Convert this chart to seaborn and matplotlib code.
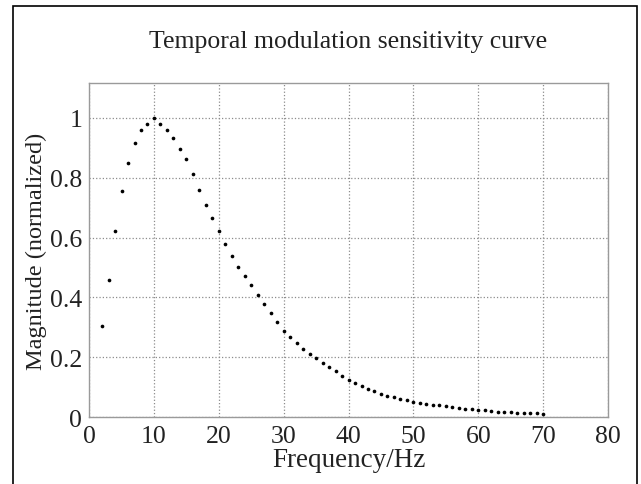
import numpy as np
import matplotlib
matplotlib.use('Agg')
import matplotlib.pyplot as plt
import seaborn as sns
import pandas as pd

# frequencias (Hz) e magnitude normalizada
freq = list(range(2, 71))
mag = [0.304, 0.459, 0.621, 0.755, 0.849, 0.917, 0.961, 0.980, 1.000,
       0.980, 0.961, 0.934, 0.897, 0.863, 0.811, 0.758, 0.709, 0.666,
       0.621, 0.580, 0.539, 0.502, 0.472, 0.440, 0.409, 0.378, 0.347,
       0.318, 0.289, 0.267, 0.247, 0.229, 0.212, 0.196, 0.182, 0.167,
       0.153, 0.137, 0.123, 0.113, 0.103, 0.094, 0.086, 0.078, 0.071,
       0.066, 0.060, 0.056, 0.051, 0.048, 0.045, 0.042, 0.039, 0.037,
       0.033, 0.031, 0.028, 0.027, 0.025, 0.022, 0.020, 0.018, 0.017,
       0.016, 0.015, 0.014, 0.013, 0.012, 0.011]
x_ticks = [0, 10, 20, 30, 40, 50, 60, 70, 80]
y_ticks = [0, 0.2, 0.4, 0.6, 0.8, 1]
y_tick_labels = ['0', '0.2', '0.4', '0.6', '0.8', '1']

df = pd.DataFrame({'freq': freq, 'mag': mag})

sns.set_style('white')
plt.rcParams['font.family'] = ['Liberation Serif', 'DejaVu Serif']

fig = plt.figure(figsize=(6.41, 4.85), dpi=100)
ax = fig.add_axes([0.139, 0.138, 0.8095, 0.689])

sns.scatterplot(data=df, x='freq', y='mag', s=7, color='black',
                linewidth=0, ax=ax, zorder=3)

ax.set_xlim(0, 80)
ax.set_ylim(0, 1.117)
ax.set_xticks(x_ticks)
ax.set_yticks(y_ticks)
ax.set_yticklabels(y_tick_labels)
ax.grid(True, linestyle=':', color='#8c8c8c', linewidth=0.9)
ax.tick_params(direction='in', length=4, color='#999999', labelsize=18.5,
               labelcolor='#222222')
ax.tick_params(axis='y', pad=5)
ax.tick_params(axis='x', pad=6)
for s in ax.spines.values():
    s.set_color('#9a9a9a')
    s.set_linewidth(1.0)

ax.set_title('Temporal modulation sensitivity curve', fontsize=18.5,
             color='#222222', pad=26)
ax.set_xlabel('Frequency/Hz', fontsize=19.5, color='#222222', labelpad=0)
ax.set_ylabel('Magnitude (normalized)', fontsize=17.5, color='#222222',
              labelpad=2)

# moldura preta em volta da figura
borda = plt.Rectangle((12.5 / 641, -0.02), (637 - 12.5) / 641, 1.02 - 7 / 485,
                      transform=fig.transFigure, fill=False,
                      edgecolor='black', linewidth=1.2)
fig.patches.append(borda)

fig.savefig('out.png', dpi=100)
